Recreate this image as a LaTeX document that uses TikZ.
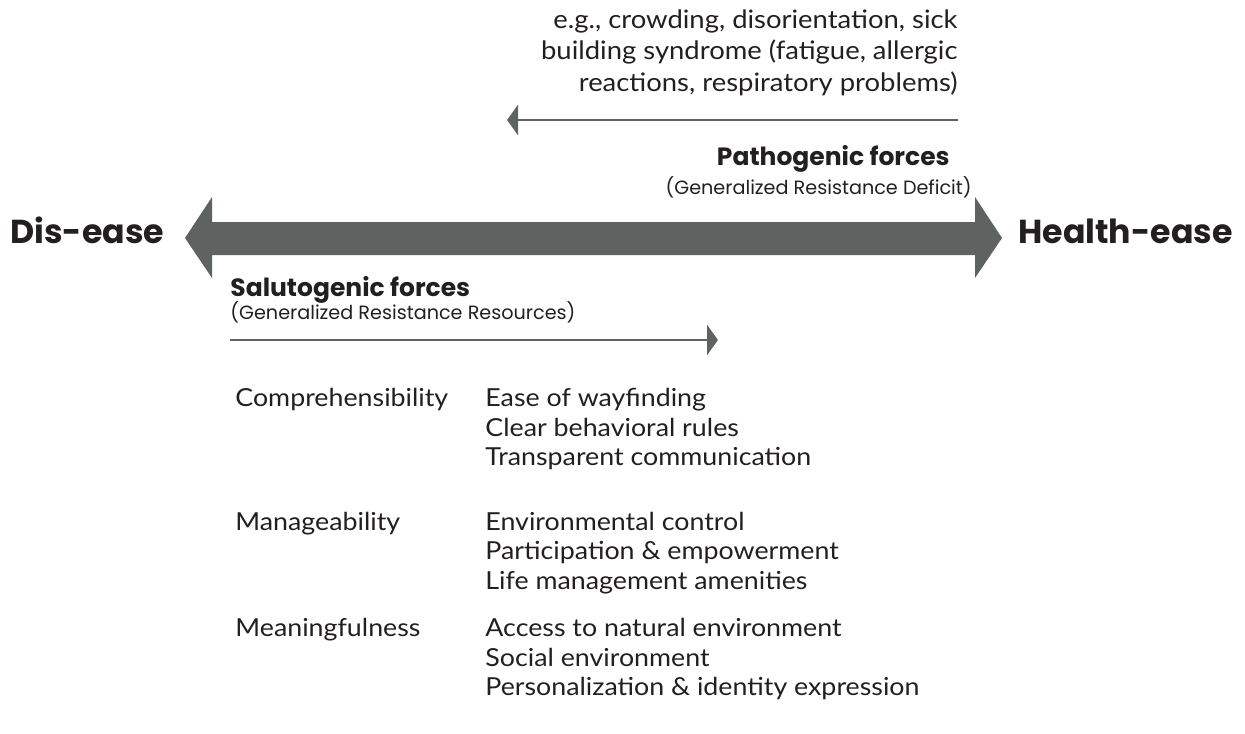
\documentclass[tikz,border=0pt]{standalone}
\usepackage{fontspec}
\setmainfont[FakeStretch=1.08]{Lato}
\newfontfamily\headfont{Poppins}
\usetikzlibrary{arrows.meta, positioning}

\begin{document}
\begin{tikzpicture}[
    x=0.5pt, y=-0.5pt,
    every node/.style={text=inkcolor, inner sep=0pt},
    pole/.style={font=\headfont\bfseries\fontsize{16.6}{20}\selectfont, anchor=base west},
    force/.style={font=\headfont\bfseries\fontsize{12.5}{15}\selectfont},
    subforce/.style={font=\headfont\fontsize{9.6}{11}\selectfont},
    example/.style={font=\fontsize{12.7}{15.5}\selectfont, anchor=base east},
    item/.style={font=\fontsize{12.4}{14}\selectfont, anchor=base west},
    thinarrow/.style={arrowgrey, line width=1.35pt, -{Triangle[length=5.5pt, width=15pt]}},
]

\definecolor{arrowgrey}{HTML}{5E6361}   % all arrows
\definecolor{inkcolor}{HTML}{231F20}    % all text

\useasboundingbox (0,0) rectangle (1245,733);

% ---------------------------------------------------------------- poles
\node[pole] (disease) at (10, 243) {Dis-ease};
\node[pole] (healthease) at (1018, 243) {Health-ease};

% ---------------------------------------------------------------- the big double arrow
\coordinate (ltip) at (185, 238);
\coordinate (rtip) at (1002, 238);
\fill[arrowgrey] (ltip) -- (212, 197) -- (212, 222) -- (975, 222) -- (975, 197)
    -- (rtip) -- (975, 278) -- (975, 255) -- (212, 255) -- (212, 278) -- cycle;

% ---------------------------------------------------------------- pathogenic side
\node[example] (ex1) at (958, 29) {e.g., crowding, disorientation, sick};
\node[example] (ex2) at (958, 60) {building syndrome (fatigue, allergic};
\node[example] (ex3) at (958, 91) {reactions, respiratory problems)};

\coordinate (pstart) at (958, 120);
\coordinate (pend) at (507, 120);
\draw[thinarrow] (pstart) -- (pend);

\node[force, anchor=base east] (patho) at (950, 165) {Pathogenic forces};
\node[subforce, anchor=base east] (deficit) at (972, 194)
    {(Generalized Resistance Deficit)};

% ---------------------------------------------------------------- salutogenic side
\node[force, anchor=base west] (saluto) at (230, 296) {Salutogenic forces};
\node[subforce, anchor=base west] (resources) at (230, 319)
    {(Generalized Resistance Resources)};

\coordinate (sstart) at (230, 340);
\coordinate (send) at (718, 340);
\draw[thinarrow] (sstart) -- (send);

% ---------------------------------------------------------------- the three components
\node[item] (comp) at (235, 406) {Comprehensibility};
\foreach \y/\txt [count=\i] in {406/Ease of wayfinding, 436/Clear behavioral rules,
        465/Transparent communication} {
    \node[item] (comp\i) at (485, \y) {\txt};
}

\node[item] (manage) at (235, 530) {Manageability};
\foreach \y/\txt [count=\i] in {530/Environmental control, 559/Participation \& empowerment,
        589/Life management amenities} {
    \node[item] (manage\i) at (485, \y) {\txt};
}

\node[item] (meaning) at (235, 636) {Meaningfulness};
\foreach \y/\txt [count=\i] in {636/Access to natural environment, 666/Social environment,
        695/Personalization \& identity expression} {
    \node[item] (meaning\i) at (485, \y) {\txt};
}

\end{tikzpicture}
\end{document}
